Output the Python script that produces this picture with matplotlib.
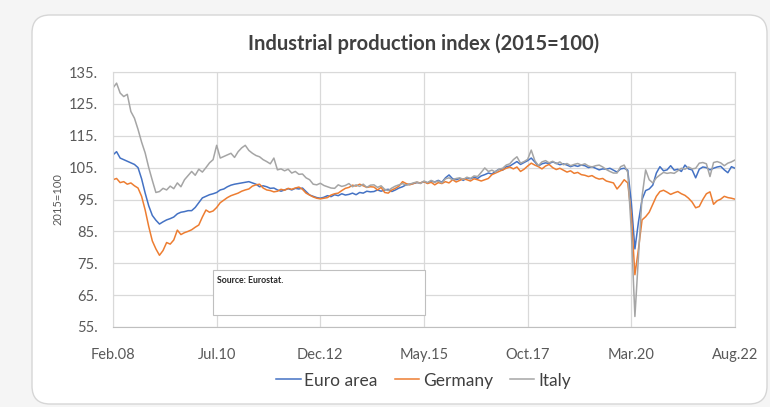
import matplotlib
matplotlib.use('Agg')
import matplotlib.pyplot as plt
from matplotlib.patches import FancyBboxPatch, Rectangle
from matplotlib.transforms import IdentityTransform
import numpy as np

plt.rcParams['font.family'] = ['Lato', 'DejaVu Sans']

# monthly index, Feb 2008 .. Aug 2022 (175 months)
euro_area = [
    109, 110, 108, 107.5, 107, 106.5, 106, 105, 101.5, 97, 93, 90,
    88.5, 87.3, 88, 88.6, 89, 89.5, 90.5, 91, 91.2, 91.5, 91.5, 92.5,
    94, 95.5, 96, 96.5, 96.8, 97.2, 98, 98.3, 99, 99.5, 99.8, 100,
    100.2, 100.4, 100.6, 100.2, 99.8, 99, 99.3, 99, 98.5, 98.6, 98, 97.6,
    98, 98.4, 98, 98.5, 98.3, 98.6, 97.5, 96.4, 96, 95.6, 95.4, 95.7,
    96.2, 95.9, 96.5, 96.2, 96.8, 96.4, 96.6, 97, 96.5, 97.2, 97, 97.6,
    97.4, 97.5, 98, 97.6, 98, 98.2, 97.5, 98, 98.6, 99, 99.6, 99.8,
    100, 100.3, 100.2, 100.6, 100.2, 100.8, 100.5, 101, 100.4, 101.8, 102.7, 101.5,
    101.2, 101.6, 101, 101.8, 101.5, 102, 101.6, 102.4, 102.8, 103.3, 103, 103.8,
    104.5, 104.2, 105.3, 105.5, 106.2, 106.9, 106, 106.6, 107.2, 108, 106.8, 105.5,
    106.2, 106.5, 106.3, 106.8, 106.4, 105.9, 106.2, 105.8, 105.3, 105.7, 105.4, 105.8,
    105.6, 105, 105.3, 104.8, 104.3, 104.6, 104.5, 104.8, 104.2, 103.6, 104.6, 104.8,
    104.2, 94, 79.5, 88, 95, 97.8, 98.3, 99.5, 103.3, 105.3, 104, 104.3,
    105.6, 104.2, 104.5, 103.8, 105.8, 104.6, 104.3, 101.8, 104.5, 105.2, 105, 104.3,
    104.8, 105.2, 105.4, 104.3, 103.4, 105.3, 104.8,
]
germany = [
    101.2, 101.6, 100.3, 100.6, 99.8, 100.2, 99.3, 98.6, 96, 91.7, 86.5, 82,
    79.5, 77.5, 79, 81.5, 81, 82.3, 85.4, 84, 84.6, 85, 85.5, 86.3,
    87, 89.5, 91.7, 91, 91.4, 92.5, 94, 94.8, 95.6, 96.2, 96.6, 97,
    97.6, 98, 98.3, 99.2, 99.6, 99.8, 98.6, 98, 97.8, 97.4, 97.6, 98.2,
    97.9, 98.5, 98.2, 98.6, 98.9, 98.2, 97, 96.4, 95.8, 95.4, 95.2, 95.4,
    95.6, 96.4, 96.8, 97, 97.8, 98.5, 98.8, 99.5, 99.2, 99.8, 99.3, 98.8,
    99, 98.9, 98, 98.8, 97.2, 97, 98, 98.5, 99.2, 100.6, 100, 99.6,
    100, 100.4, 100.2, 100.6, 100, 100.4, 99.6, 100.3, 100, 100.6, 100.2, 101.2,
    100.5, 101, 101.5, 101.2, 100.8, 101.5, 101.2, 100.8, 101.2, 101.6, 102.8, 103.3,
    103.8, 104.3, 104.8, 105.2, 104.6, 105.2, 103.8, 104.5, 105.5, 106.4, 105.8, 105.3,
    104.6, 105.5, 106, 105, 104.4, 104.8, 104.2, 103.6, 104, 103.2, 103.5, 102.8,
    102.6, 102.2, 102.5, 101.8, 101.4, 101.6, 100.8, 100.5, 100.2, 98.3, 99.6, 101.2,
    100.2, 90, 71.4, 79.5, 88.6, 89.6, 91, 93.5, 96, 97.5, 97.9, 97.3,
    96.6, 97.1, 97.5, 96.8, 96.3, 95.4, 94.2, 92.4, 92.8, 95, 96.8, 97.4,
    93.5, 94.6, 95.1, 96, 95.6, 95.4, 95.1,
]
italy = [
    130, 131.5, 128.4, 127.3, 128, 122.6, 120.5, 117, 113, 109.6, 105, 101,
    97.2, 97.5, 98.5, 98, 99.2, 98.4, 100.2, 99, 101.2, 102.5, 103.8, 102.6,
    104.5, 103.6, 105, 106.5, 107.5, 112, 108, 108.5, 109, 109.5, 108.2, 110,
    111.2, 112, 110.4, 109.5, 108.8, 108.4, 107.5, 106.9, 106.2, 108, 104.3, 104.6,
    104, 104.5, 103.3, 103.8, 102.9, 103, 101.8, 101.2, 99.8, 99.6, 100.1, 99.4,
    99, 98.6, 98.5, 99.6, 99.1, 99.4, 100, 99, 99.6, 99.1, 99.8, 98.8,
    99.5, 99.6, 98.8, 99.3, 98.2, 97.8, 98.6, 99.2, 99.6, 100, 99.5, 99.8,
    100.2, 100.5, 100, 100.8, 100.3, 101, 100.4, 100.8, 100.2, 101.5, 101.8, 101.2,
    101.6, 101.8, 101.3, 102, 101.6, 102.4, 102.2, 103.5, 104.9, 103.8, 104.2, 103.6,
    104.5, 104.8, 105.8, 106.2, 107.5, 108.4, 106.4, 106.9, 107.6, 110.5, 107.2, 105.6,
    106.8, 107.2, 106.5, 107, 106.2, 106.8, 105.9, 106.3, 105.6, 106, 106.3, 105.8,
    106.2, 105.5, 105.2, 105.6, 105.8, 105.2, 104.4, 103.8, 103.3, 103.3, 105.3, 105.8,
    103.5, 85, 58.3, 77, 96, 104.3, 101.2, 100.2, 101.8, 102.7, 103.5, 103.2,
    103.4, 103.2, 104, 104.8, 104.5, 105.2, 104.6, 104.8, 106.4, 106.6, 106.2, 102.2,
    106.6, 106.9, 106.5, 105.6, 106.4, 106.8, 107.4,
]
tick_labels = ['Feb.08', 'Jul.10', 'Dec.12', 'May.15', 'Oct.17', 'Mar.20', 'Aug.22']

months = np.arange(len(euro_area))

fig = plt.figure(figsize=(7.7, 4.07), dpi=100, facecolor='#f5f5f5')

# white card with rounded corners (pixel coords)
card = FancyBboxPatch((32, 3), 735, 389, boxstyle='round,pad=0,rounding_size=18',
                      transform=IdentityTransform(), facecolor='white',
                      edgecolor='#d6d6d6', linewidth=1.0, zorder=-10)
fig.patches.append(card)

ax = fig.add_axes([113 / 770, 1 - 327 / 407, 622 / 770, 255 / 407])
ax.set_facecolor('none')

ax.plot(months, euro_area, color='#4472C4', lw=1.1, label='Euro area')
ax.plot(months, germany, color='#ED7D31', lw=1.1, label='Germany')
ax.plot(months, italy, color='#A5A5A5', lw=1.1, label='Italy')

ax.set_xlim(0, 174)
ax.set_ylim(55, 135)
ax.set_xticks(np.arange(0, 175, 29))
ax.set_xticklabels(tick_labels)
yt = np.arange(55, 136, 10)
ax.set_yticks(yt)
ax.set_yticklabels([f'{v}.' for v in yt])
ax.grid(True, color='#d9d9d9', lw=0.9)
ax.set_axisbelow(True)
for side in ['top', 'right', 'left']:
    ax.spines[side].set_color('#d9d9d9')
ax.spines['bottom'].set_color('#bfbfbf')
ax.tick_params(length=0, labelsize=10.5, labelcolor='#595959')
ax.tick_params(axis='x', pad=15)
ax.tick_params(axis='y', pad=11)
ax.set_ylabel('2015=100', fontsize=8, color='#595959', labelpad=4)

ax.set_title('Industrial production index (2015=100)', fontsize=14.5,
             fontweight='bold', color='#404040', pad=16)

# source box
ax.add_patch(Rectangle((0.161, 0.047), 0.341, 0.177, transform=ax.transAxes,
                       facecolor='white', edgecolor='#bfbfbf', lw=0.8, zorder=3))
ax.text(0.168, 0.182, 'Source: Eurostat.', transform=ax.transAxes, fontsize=6.3,
        fontweight='bold', color='#262626', va='center', zorder=4)

fig.legend(loc='center', bbox_to_anchor=(0.55, 0.065), ncol=3, frameon=False,
           fontsize=12.5, handlelength=1.4, handletextpad=0.2, columnspacing=1.0,
           labelcolor='#404040')

fig.savefig('out.png', dpi=100, facecolor=fig.get_facecolor())
